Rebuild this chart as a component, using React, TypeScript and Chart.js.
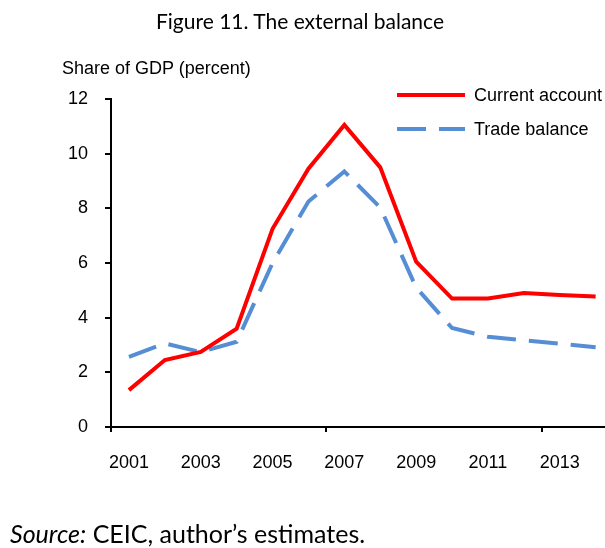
import React, { useEffect, useRef } from "react";
import { Chart, registerables } from "chart.js";

Chart.register(...registerables);

const years = ["2001", "2002", "2003", "2004", "2005", "2006", "2007", "2008", "2009", "2010", "2011", "2012", "2013", "2014"];
const currentAccount = [1.35, 2.45, 2.75, 3.6, 7.25, 9.45, 11.05, 9.5, 6.05, 4.7, 4.7, 4.9, 4.83, 4.77];
const tradeBalance = [2.57, 3.06, 2.74, 3.12, 6.0, 8.25, 9.35, 8.03, 5.1, 3.62, 3.3, 3.17, 3.05, 2.92];
const yTicks = { min: 0, max: 12, step: 2 };
const seriesNames = ["Current account", "Trade balance"];

const TICK_FONT = { family: "'Liberation Sans', Arial, sans-serif", size: 18 };

const insideLegend = {
  id: "insideLegend",
  afterDraw(chart: any) {
    const ctx = chart.ctx;
    const x0 = 397;
    const lineLen = 68;
    const rows = [95, 129];
    chart.data.datasets.forEach((ds: any, i: number) => {
      const y = rows[i];
      ctx.save();
      ctx.strokeStyle = ds.borderColor;
      ctx.lineWidth = ds.borderWidth;
      ctx.setLineDash(ds.borderDash || []);
      ctx.beginPath();
      ctx.moveTo(x0, y);
      ctx.lineTo(x0 + lineLen, y);
      ctx.stroke();
      ctx.setLineDash([]);
      ctx.fillStyle = "#000";
      ctx.font = `${TICK_FONT.size}px ${TICK_FONT.family}`;
      ctx.textBaseline = "middle";
      ctx.textAlign = "left";
      ctx.fillText(ds.label, x0 + lineLen + 9, y + 1);
      ctx.restore();
    });
  },
};

export default function App() {
  const ref = useRef<HTMLCanvasElement | null>(null);

  useEffect(() => {
    if (!ref.current) return;
    const chart = new Chart(ref.current, {
      type: "line",
      data: {
        labels: years,
        datasets: [
          {
            label: seriesNames[0],
            data: currentAccount,
            borderColor: "#FF0000",
            borderWidth: 4,
            pointRadius: 0,
            tension: 0,
            fill: false,
          },
          {
            label: seriesNames[1],
            data: tradeBalance,
            borderColor: "#558ED5",
            borderWidth: 4,
            borderDash: [29, 13],
            pointRadius: 0,
            tension: 0,
            fill: false,
          },
        ],
      },
      options: {
        responsive: false,
        animation: false,
        layout: { padding: { top: 99, left: 0, right: 6.4, bottom: 71 } },
        plugins: {
          legend: { display: false },
          title: { display: false },
          tooltip: { enabled: false },
        },
        scales: {
          x: {
            type: "category",
            offset: true,
            afterFit: (s: any) => {
              s.height = 50;
            },
            grid: {
              offset: true,
              drawOnChartArea: false,
              drawTicks: true,
              tickLength: 5,
              lineWidth: 2,
              color: (c: any) => (c.index % 6 === 0 ? "#000" : "rgba(0,0,0,0)"),
            },
            border: { display: true, color: "#000", width: 2 },
            ticks: {
              autoSkip: false,
              maxRotation: 0,
              minRotation: 0,
              padding: 20,
              color: "#000",
              font: TICK_FONT,
              callback: (_v: any, i: number) => (i % 2 === 0 ? years[i] : ""),
            },
          },
          y: {
            min: yTicks.min,
            max: yTicks.max,
            afterFit: (s: any) => {
              s.width = 111;
            },
            grid: {
              drawOnChartArea: false,
              drawTicks: true,
              tickLength: 6,
              lineWidth: 2,
              color: "#000",
            },
            border: { display: true, color: "#000", width: 2 },
            ticks: {
              stepSize: yTicks.step,
              padding: 17,
              color: "#000",
              font: TICK_FONT,
            },
          },
        },
      },
      plugins: [insideLegend],
    });
    return () => chart.destroy();
  }, []);

  return (
    <div
      style={{
        position: "absolute",
        left: 0,
        top: 0,
        width: 605,
        height: 548,
        overflow: "hidden",
        background: "#fff",
      }}
    >
      <canvas ref={ref} width={620} height={548} style={{ position: "absolute", left: 0, top: 0 }} />
      <div
        style={{
          position: "absolute",
          left: 0,
          width: 600,
          top: 6,
          textAlign: "center",
          fontFamily: "Lato, 'Noto Sans', sans-serif",
          fontSize: 21,
          lineHeight: "30px",
          color: "#000",
          whiteSpace: "nowrap",
        }}
      >
        Figure 11. The external balance
      </div>
      <div
        style={{
          position: "absolute",
          left: 62,
          top: 58,
          fontFamily: "'Liberation Sans', Arial, sans-serif",
          fontSize: 18,
          lineHeight: "20px",
          color: "#000",
          whiteSpace: "nowrap",
        }}
      >
        Share of GDP (percent)
      </div>
      <div
        style={{
          position: "absolute",
          left: 10,
          top: 518,
          fontFamily: "Lato, 'Noto Sans', sans-serif",
          fontSize: 25,
          lineHeight: "30px",
          color: "#000",
          whiteSpace: "nowrap",
        }}
      >
        <i>Source:</i> CEIC, author’s estimates.
      </div>
    </div>
  );
}
